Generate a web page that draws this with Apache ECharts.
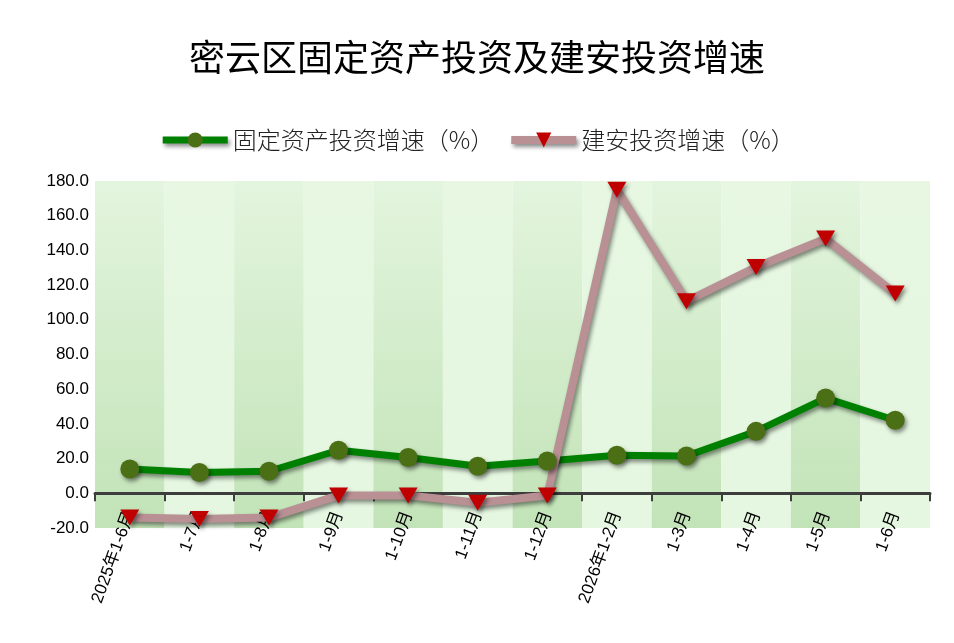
<!DOCTYPE html>
<html>
<head>
<meta charset="utf-8">
<title>密云区固定资产投资及建安投资增速</title>
<script src="https://cdn.jsdelivr.net/npm/echarts@6/dist/echarts.min.js"></script>
<style>
    html, body { margin: 0; padding: 0; background: #fff; }
    #main { width: 954px; height: 643px; }
</style>
</head>
<body>
<div id="main"></div>
<script>
// 月份（横轴）
var categories = ['2025年1-6月', '1-7月', '1-8月', '1-9月', '1-10月', '1-11月', '1-12月',
    '2026年1-2月', '1-3月', '1-4月', '1-5月', '1-6月'];
// 固定资产投资增速（%）
var fixedInvest = [14.0, 12.0, 12.7, 24.8, 20.6, 15.6, 18.6, 21.9, 21.5, 35.7, 54.9, 42.1];
// 建安投资增速（%）
var buildInvest = [-14.0, -14.8, -14.0, -1.2, -1.2, -5.5, -1.3, 175.0, 110.7, 130.4, 146.8, 115.1];
// 纵轴刻度
var yMin = -20, yMax = 180, yStep = 20;

var myChart = echarts.init(document.getElementById('main'));

// 竖条背景：深浅交替，深色条下深上浅
var darkBand = new echarts.graphic.LinearGradient(0, 0, 0, 1, [
    { offset: 0, color: '#e3f5de' },
    { offset: 1, color: '#c2e3b7' }
]);
var lightBand = new echarts.graphic.LinearGradient(0, 0, 0, 1, [
    { offset: 0, color: '#e7f7e2' },
    { offset: 1, color: '#e5f7e0' }
]);

var lineShadow = {
    shadowColor: 'rgba(0,0,0,0.45)',
    shadowBlur: 4,
    shadowOffsetX: 2,
    shadowOffsetY: 3
};

var option = {
    animation: false,
    backgroundColor: '#ffffff',
    title: {
        text: '密云区固定资产投资及建安投资增速',
        left: 'center',
        top: 34,
        textStyle: {
            fontFamily: 'Noto Sans CJK SC',
            fontSize: 36,
            fontWeight: 'normal',
            color: '#000'
        }
    },
    legend: {
        top: 123,
        left: 'center',
        itemWidth: 65,
        itemHeight: 19,
        itemGap: 13,
        textStyle: {
            fontFamily: 'Noto Sans CJK SC',
            fontSize: 24,
            fontWeight: 300,
            color: '#222'
        },
        data: [
            {
                name: '固定资产投资增速（%）',
                lineStyle: Object.assign({ color: '#008000', width: 7 }, lineShadow)
            },
            {
                name: '建安投资增速（%）',
                lineStyle: Object.assign({ color: '#b99094', width: 8 }, lineShadow)
            }
        ]
    },
    grid: {
        left: 95,
        right: 24,
        top: 181,
        bottom: 115,
        containLabel: false
    },
    xAxis: {
        type: 'category',
        data: categories,
        boundaryGap: true,
        axisLine: {
            onZero: true,
            lineStyle: { color: '#3d3d3d', width: 3 }
        },
        axisTick: {
            show: true,
            alignWithLabel: false,
            length: 8,
            lineStyle: { color: '#3d3d3d', width: 2 }
        },
        axisLabel: {
            rotate: 70,
            margin: -16,
            interval: 0,
            color: '#000',
            fontSize: 17,
            fontFamily: 'Liberation Sans, Noto Sans CJK SC'
        },
        splitLine: { show: false },
        splitArea: {
            show: true,
            interval: 0,
            areaStyle: { color: [darkBand, lightBand] }
        }
    },
    yAxis: {
        type: 'value',
        min: yMin,
        max: yMax,
        interval: yStep,
        axisLine: { show: false },
        axisTick: { show: false },
        splitLine: { show: false },
        axisLabel: {
            margin: 6,
            color: '#000',
            fontSize: 17,
            fontFamily: 'Liberation Sans',
            formatter: function (v) { return v.toFixed(1); }
        }
    },
    series: [
        {
            name: '固定资产投资增速（%）',
            type: 'line',
            data: fixedInvest,
            symbol: 'circle',
            symbolSize: 19,
            lineStyle: Object.assign({ color: '#008000', width: 7 }, lineShadow),
            itemStyle: Object.assign({ color: '#4a6f14' }, lineShadow)
        },
        {
            name: '建安投资增速（%）',
            type: 'line',
            data: buildInvest,
            symbol: 'triangle',
            symbolRotate: 180,
            symbolSize: [19, 16],
            lineStyle: Object.assign({ color: '#b99094', width: 8 }, lineShadow),
            itemStyle: Object.assign({ color: '#c00000' }, lineShadow)
        }
    ]
};

myChart.setOption(option);
</script>
</body>
</html>
